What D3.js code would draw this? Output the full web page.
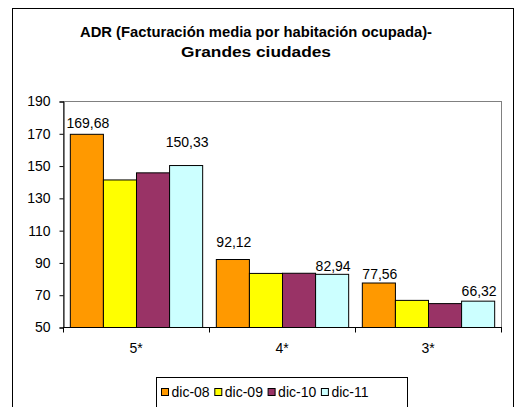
<!DOCTYPE html>
<html>
<head>
<meta charset="utf-8">
<script src="https://cdn.jsdelivr.net/npm/d3@7"></script>
<style>
  body { margin: 0; background: #fff; }
  text { font-family: "Liberation Sans", Arial, sans-serif; }
</style>
</head>
<body>
<div id="figure"></div>
<script>
// data
const categories = ['5*', '4*', '3*']
const series = ['dic-08', 'dic-09', 'dic-10', 'dic-11']
const dic08 = [169.68, 92.12, 77.56]
const dic09 = [141.4, 83.5, 66.8]
const dic10 = [145.8, 83.6, 64.8]
const dic11 = [150.33, 82.94, 66.32]
const yTicks = [50, 70, 90, 110, 130, 150, 170, 190]
const titleLines = ['ADR (Facturación media por habitación ocupada)-', 'Grandes ciudades']

const values = [dic08, dic09, dic10, dic11]
const colors = ['#FF9900', '#FFFF00', '#993366', '#CCFFFF']
// which series carry a value label, and how far above the bar each sits
const labelGap = { 0: [6, 12, 4], 3: [18, 3, 5] }
// title line widths as drawn in the original
const titleWidth = [352, 150]

const width = 516
const height = 407
const margin = { TOP: 101, LEFT: 63, RIGHT: 14, BOTTOM: 80 }

const svg = d3.select('#figure').append('svg')
  .attr('width', width).attr('height', height)

// chart area border
svg.append('rect').attr('x', 12.5).attr('y', 8.5).attr('width', 501).attr('height', 410)
  .attr('fill', 'white').attr('stroke', 'black').attr('stroke-width', 1)

// title
svg.append('g').selectAll('text').data(titleLines).enter().append('text')
  .attr('x', 256).attr('y', (d, i) => 36.5 + i * 20)
  .attr('text-anchor', 'middle').attr('font-weight', 'bold').attr('font-size', 14)
  .attr('textLength', (d, i) => titleWidth[i]).attr('lengthAdjust', 'spacingAndGlyphs')
  .text(d => d)

const scaleX = d3.scaleBand().domain(categories)
  .range([margin.LEFT, width - margin.RIGHT - 1])
  .paddingInner(0.0935).paddingOuter(0.0467)
const scaleS = d3.scaleBand().domain(series).range([0, scaleX.bandwidth()])
const scaleY = d3.scaleLinear().domain([50, 190]).range([height - margin.BOTTOM, margin.TOP])

// plot area
svg.append('rect')
  .attr('x', margin.LEFT + 0.5).attr('y', margin.TOP + 0.5)
  .attr('width', width - margin.RIGHT - 1 - margin.LEFT).attr('height', scaleY(50) - margin.TOP)
  .attr('fill', 'white').attr('stroke', '#808080')

// bars
const groups = svg.append('g').selectAll('g').data(categories).enter().append('g')
  .attr('transform', d => `translate(${scaleX(d)},0)`)

groups.selectAll('rect').data((c, ci) => series.map((s, si) => ({ s, si, v: values[si][ci] })))
  .enter().append('rect')
  .attr('x', d => scaleS(d.s) + 0.5)
  .attr('y', d => scaleY(d.v) + 0.5)
  .attr('width', scaleS.bandwidth())
  .attr('height', d => scaleY(50) - scaleY(d.v))
  .attr('fill', d => colors[d.si])
  .attr('stroke', 'black').attr('stroke-width', 1)

// value labels
groups.selectAll('text.val').data((c, ci) => series.map((s, si) => ({ s, si, ci, v: values[si][ci] }))
  .filter(d => labelGap[d.si]))
  .enter().append('text').attr('class', 'val')
  .attr('x', d => scaleS(d.s) + scaleS.bandwidth() / 2 + 1.5)
  .attr('y', d => scaleY(d.v) - labelGap[d.si][d.ci])
  .attr('text-anchor', 'middle').attr('font-size', 14)
  .text(d => d.v.toFixed(2).replace('.', ','))

// y axis
const axisLeft = d3.axisLeft(scaleY).tickValues(yTicks).tickSize(4).tickPadding(9)
const yAxis = svg.append('g').attr('transform', `translate(${margin.LEFT + 0.5},0.5)`).call(axisLeft)
yAxis.select('.domain').attr('stroke', 'black')
yAxis.selectAll('text').attr('font-size', 14).attr('font-family', '"Liberation Sans", Arial, sans-serif').attr('fill', 'black')

// x axis
const xAxis = svg.append('g').attr('transform', `translate(0,${scaleY(50) + 0.5})`)
xAxis.append('line').attr('x1', margin.LEFT).attr('x2', width - margin.RIGHT).attr('stroke', 'black')
const bounds = [margin.LEFT, ...categories.map(c => scaleX(c) + scaleX.bandwidth() + scaleX.step() * scaleX.paddingInner() / 2)]
bounds[bounds.length - 1] = width - margin.RIGHT - 1
xAxis.selectAll('line.tick').data(bounds).enter().append('line').attr('class', 'tick')
  .attr('x1', d => Math.round(d) + 0.5).attr('x2', d => Math.round(d) + 0.5)
  .attr('y1', 0).attr('y2', 5).attr('stroke', 'black')
xAxis.selectAll('text').data(categories).enter().append('text')
  .attr('x', d => scaleX(d) + scaleX.bandwidth() / 2)
  .attr('y', 25).attr('text-anchor', 'middle').attr('font-size', 14)
  .text(d => d)

// legend
const legend = svg.append('g').attr('transform', 'translate(156.5,377.5)')
legend.append('rect').attr('width', 251).attr('height', 40).attr('fill', 'white').attr('stroke', 'black')
const items = legend.selectAll('g').data(series).enter().append('g')
  .attr('transform', (d, i) => `translate(${5 + i * 53.3},0)`)
items.append('rect').attr('x', 0).attr('y', 11).attr('width', 7).attr('height', 7)
  .attr('fill', (d, i) => colors[i]).attr('stroke', 'black')
items.append('text').attr('x', 10).attr('y', 19.5).attr('font-size', 14).text(d => d)
</script>
</body>
</html>
